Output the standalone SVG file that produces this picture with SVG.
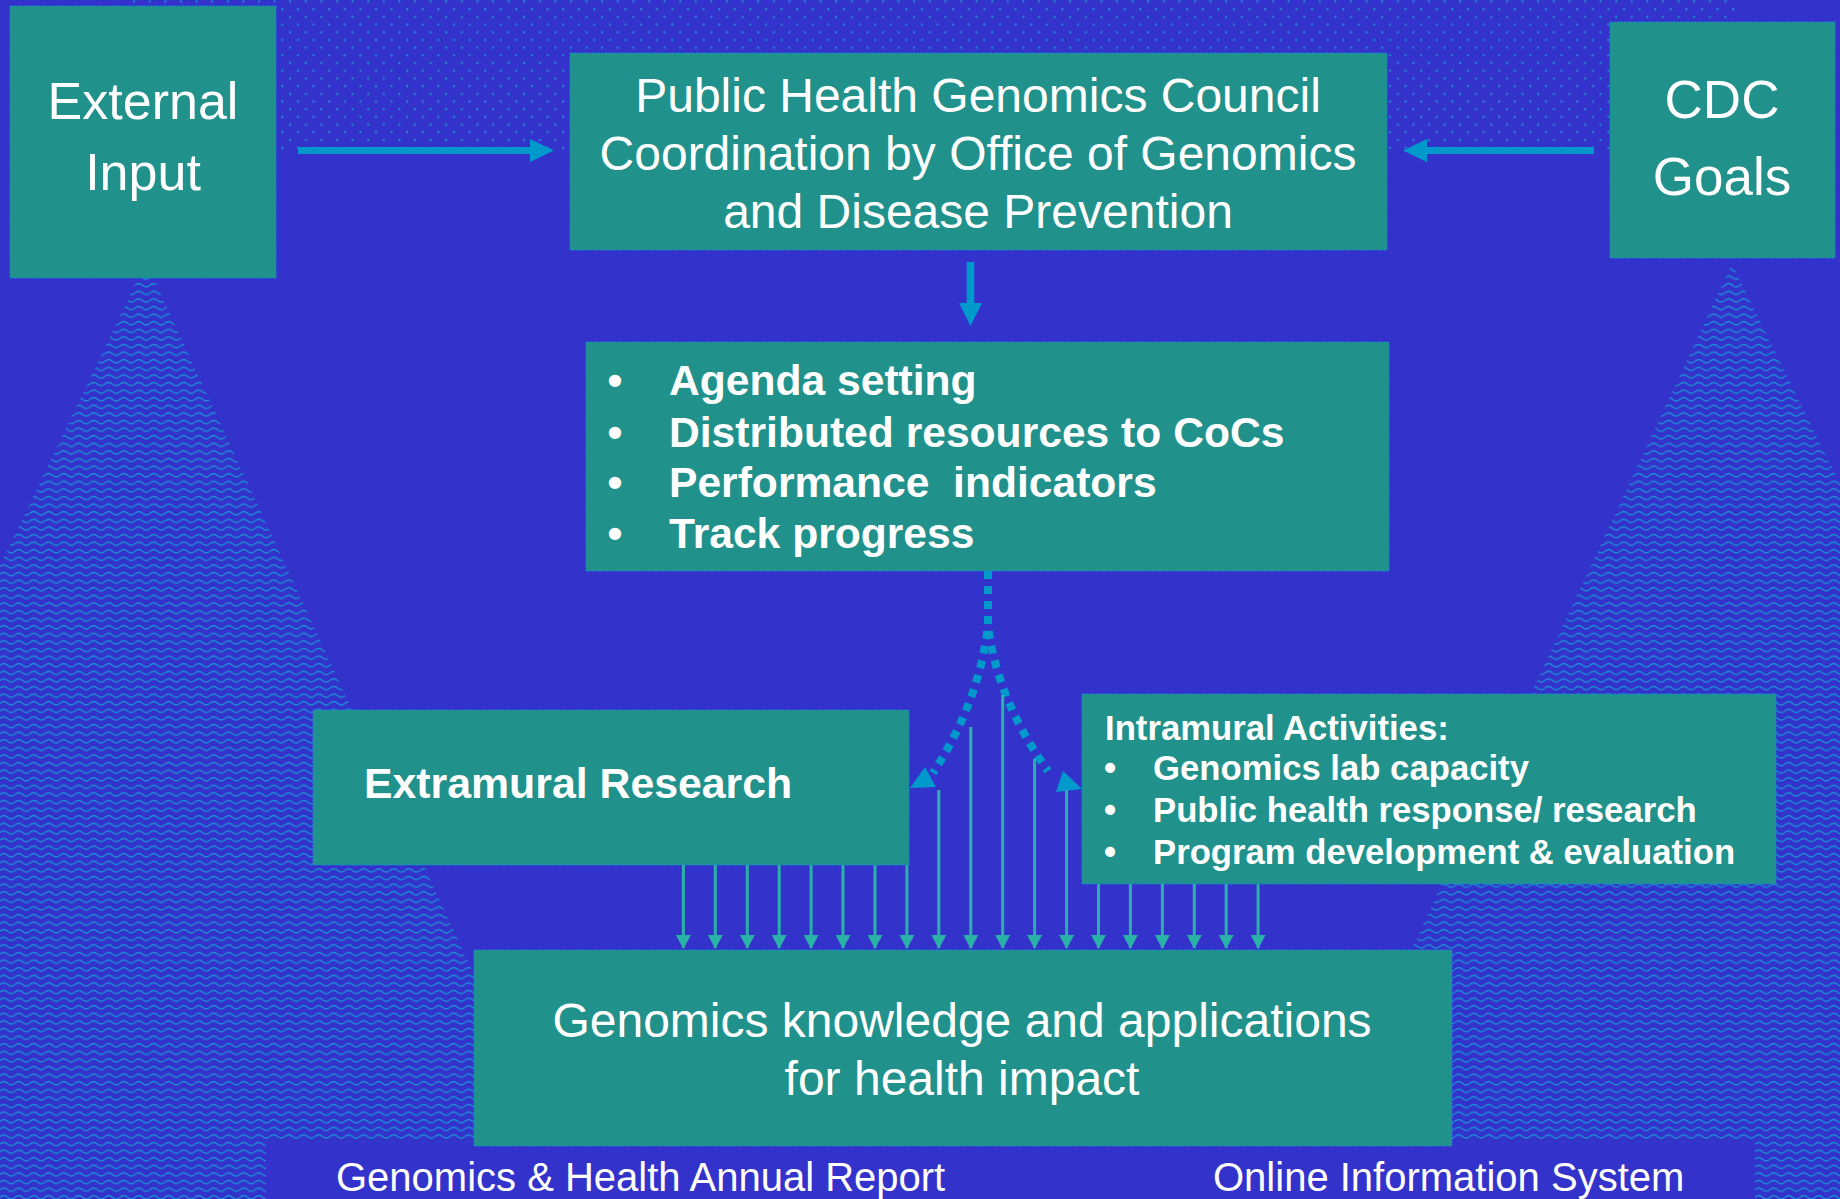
<svg xmlns="http://www.w3.org/2000/svg" width="1840" height="1199" viewBox="0 0 1840 1199">
  <defs>
    <pattern id="dots" patternUnits="userSpaceOnUse" x="133" y="0.3" width="15.6" height="15.4">
      <circle cx="1.2" cy="1.2" r="1.1" fill="#1f8fd6"/>
      <circle cx="9" cy="8.9" r="1.1" fill="#1f8fd6"/>
    </pattern>
    <pattern id="waves" patternUnits="userSpaceOnUse" x="0" y="0" width="15" height="7.6">
      <path d="M0 4 Q3.75 0.6 7.5 4 T15 4" fill="none" stroke="#1b8fd4" stroke-width="1.3"/>
    </pattern>
    <marker id="tip" markerUnits="userSpaceOnUse" markerWidth="14" markerHeight="15" viewBox="0 0 14 15" refX="13" refY="7.5" orient="auto">
      <path d="M0 0 L14 7.5 L0 15 Z" fill="#2bb2a8"/>
    </marker>
    <style>
      .box { fill: #21918c; stroke: #1a8ad4; stroke-width: 1; stroke-dasharray: 2 1.5; }
      .t { font-family: "Liberation Sans", Arial, sans-serif; fill: #ffffff; }
      .b { font-weight: bold; }
      .big { fill: #0099cc; }
      .dash { fill: none; stroke: #0099cc; stroke-width: 8; stroke-dasharray: 8 7; }
      .thin { stroke: #2bb2a8; stroke-width: 3; marker-end: url(#tip); }
    </style>
  </defs>

  <!-- backdrop -->
  <rect width="1840" height="1199" fill="#3333cc"/>
  <rect x="130" y="0" width="1606" height="150" fill="url(#dots)"/>
  <polygon points="146,262 577,1199 0,1199 0,566" fill="url(#waves)"/>
  <polygon points="1732,264 1840,484 1840,1199 1295,1199" fill="url(#waves)"/>

  <!-- connectors -->
  <g id="connectors">
    <polygon class="big" points="298,147 530,147 530,139 554,150.5 530,162 530,154 298,154"/>
    <polygon class="big" points="1594,147 1427,147 1427,139 1403,150.5 1427,162 1427,154 1594,154"/>
    <polygon class="big" points="966.7,262 974.3,262 974.3,303 982,303 970.5,326 959,303 966.7,303"/>
    <path class="dash" d="M988 571 L988 625 Q980 700 933 773"/>
    <path class="dash" d="M988 571 L988 625 Q997 700 1048 771"/>
    <polygon class="big" points="925,767 936,787 910,788"/>
    <polygon class="big" points="1063,771 1082,789 1056,792"/>
    <line class="thin" x1="683.4" y1="865" x2="683.4" y2="948"/>
    <line class="thin" x1="715.3" y1="865" x2="715.3" y2="948"/>
    <line class="thin" x1="747.3" y1="865" x2="747.3" y2="948"/>
    <line class="thin" x1="779.2" y1="865" x2="779.2" y2="948"/>
    <line class="thin" x1="811.1" y1="865" x2="811.1" y2="948"/>
    <line class="thin" x1="843" y1="865" x2="843" y2="948"/>
    <line class="thin" x1="875" y1="865" x2="875" y2="948"/>
    <line class="thin" x1="906.9" y1="865" x2="906.9" y2="948"/>
    <line class="thin" x1="938.8" y1="790" x2="938.8" y2="948"/>
    <line class="thin" x1="970.8" y1="727" x2="970.8" y2="948"/>
    <line class="thin" x1="1002.7" y1="695" x2="1002.7" y2="948"/>
    <line class="thin" x1="1034.6" y1="759" x2="1034.6" y2="948"/>
    <line class="thin" x1="1066.6" y1="790" x2="1066.6" y2="948"/>
    <line class="thin" x1="1098.5" y1="884" x2="1098.5" y2="948"/>
    <line class="thin" x1="1130.4" y1="884" x2="1130.4" y2="948"/>
    <line class="thin" x1="1162.4" y1="884" x2="1162.4" y2="948"/>
    <line class="thin" x1="1194.3" y1="884" x2="1194.3" y2="948"/>
    <line class="thin" x1="1226.2" y1="884" x2="1226.2" y2="948"/>
    <line class="thin" x1="1258.1" y1="884" x2="1258.1" y2="948"/>
  </g>

  <g id="external-input">
    <rect class="box" x="10" y="6" width="266" height="272"/>
    <text class="t" x="143" y="119" font-size="52" text-anchor="middle">External</text>
    <text class="t" x="143" y="190" font-size="52" text-anchor="middle">Input</text>
  </g>

  <g id="council">
    <rect class="box" x="570" y="53" width="817" height="197"/>
    <text class="t" x="978" y="112" font-size="48" text-anchor="middle">Public Health Genomics Council</text>
    <text class="t" x="978" y="170" font-size="48" text-anchor="middle">Coordination by Office of Genomics</text>
    <text class="t" x="978" y="228" font-size="48" text-anchor="middle">and Disease Prevention</text>
  </g>

  <g id="cdc-goals">
    <rect class="box" x="1610" y="22" width="225" height="236"/>
    <text class="t" x="1722" y="118" font-size="53" text-anchor="middle">CDC</text>
    <text class="t" x="1722" y="195" font-size="53" text-anchor="middle">Goals</text>
  </g>

  <g id="agenda">
    <rect class="box" x="586" y="342" width="803" height="229"/>
    <g class="t b" font-size="42.6">
      <text x="615" y="395" text-anchor="middle">•</text>
      <text x="669" y="395">Agenda setting</text>
      <text x="615" y="447" text-anchor="middle">•</text>
      <text x="669" y="447">Distributed resources to CoCs</text>
      <text x="615" y="497" text-anchor="middle">•</text>
      <text x="669" y="497" xml:space="preserve">Performance  indicators</text>
      <text x="615" y="548" text-anchor="middle">•</text>
      <text x="669" y="548">Track progress</text>
    </g>
  </g>

  <g id="extramural">
    <rect class="box" x="313" y="710" width="596" height="155"/>
    <text class="t b" x="364" y="798" font-size="42.8">Extramural Research</text>
  </g>

  <g id="intramural">
    <rect class="box" x="1082" y="694" width="694" height="190"/>
    <g class="t b" font-size="34.7">
      <text x="1105" y="740">Intramural Activities:</text>
      <text x="1110" y="780" text-anchor="middle">•</text>
      <text x="1153" y="780">Genomics lab capacity</text>
      <text x="1110" y="822" text-anchor="middle">•</text>
      <text x="1153" y="822">Public health response/ research</text>
      <text x="1110" y="864" text-anchor="middle">•</text>
      <text x="1153" y="864">Program development &amp; evaluation</text>
    </g>
  </g>

  <g id="outputs">
    <rect x="266" y="1142" width="1489" height="57" fill="#3333cc"/>
    <text class="t" x="336" y="1191" font-size="40">Genomics &amp; Health Annual Report</text>
    <text class="t" x="1213" y="1191" font-size="40">Online Information System</text>
  </g>

  <g id="knowledge">
    <rect class="box" x="474" y="950" width="978" height="196"/>
    <text class="t" x="962" y="1037" font-size="48" text-anchor="middle">Genomics knowledge and applications</text>
    <text class="t" x="962" y="1095" font-size="48" text-anchor="middle">for health impact</text>
  </g>
</svg>
